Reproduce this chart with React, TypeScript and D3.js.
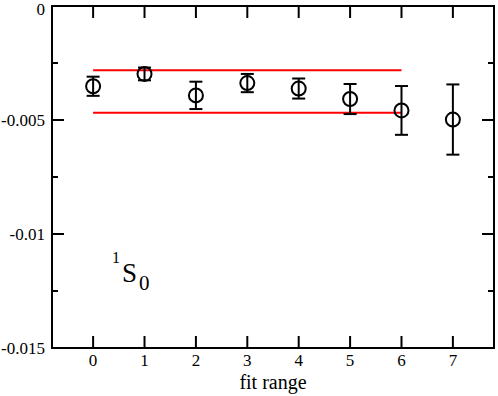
import React from "react";
import { scaleLinear } from "d3";

const fitRange = [0, 1, 2, 3, 4, 5, 6, 7];
const values = [-0.00352, -0.00298, -0.00392, -0.00338, -0.00362, -0.00408, -0.00458, -0.00498];
const errors = [0.00042, 0.00028, 0.0006, 0.0004, 0.00044, 0.00066, 0.00107, 0.00154];
const bandLow = -0.00468;
const bandHigh = -0.00282;
const bandFrom = 0;
const bandTo = 6;
const yTicks = [0, -0.005, -0.01, -0.015];
const yTickLabels = ["0", "-0.005", "-0.01", "-0.015"];
const yMinor = [-0.0025, -0.0075, -0.0125];

const W = 498, H = 396;
const left = 52, right = 494, top = 6, bottom = 348;
const font = "Liberation Serif";

export default function App() {
    const x = scaleLinear().domain([-0.8, 7.8]).range([left, right]);
    const y = scaleLinear().domain([-0.015, 0]).range([bottom, top]);

    return (
        <svg width={W} height={H} style={{ position: "absolute", left: 0, top: 0, background: "#fff" }}>
            {/* red band */}
            {[bandLow, bandHigh].map((v, i) => (
                <line key={"b" + i} x1={x(bandFrom)} x2={x(bandTo)} y1={y(v)} y2={y(v)} stroke="#ff0000" strokeWidth={2} />
            ))}

            {/* points with error bars */}
            {fitRange.map((f, i) => {
                const cx = x(f), cy = y(values[i]);
                const y1 = y(values[i] + errors[i]), y2 = y(values[i] - errors[i]);
                return (
                    <g key={f} stroke="#000" strokeWidth={2} fill="none">
                        <line x1={cx} x2={cx} y1={y1} y2={y2} />
                        <line x1={cx - 6.5} x2={cx + 6.5} y1={y1} y2={y1} />
                        <line x1={cx - 6.5} x2={cx + 6.5} y1={y2} y2={y2} />
                        <circle cx={cx} cy={cy} r={7} fill="none" />
                    </g>
                );
            })}

            {/* frame */}
            <rect x={left} y={top} width={right - left} height={bottom - top} fill="none" stroke="#000" strokeWidth={2} />

            {/* x ticks */}
            {fitRange.map(t => (
                <g key={"xt" + t} stroke="#000" strokeWidth={2}>
                    <line x1={x(t)} x2={x(t)} y1={bottom} y2={bottom - 12} />
                    <line x1={x(t)} x2={x(t)} y1={top} y2={top + 12} />
                </g>
            ))}
            {fitRange.map(t => (
                <text key={"xl" + t} x={x(t)} y={366} fontFamily={font} fontSize={17} textAnchor="middle">{t}</text>
            ))}

            {/* y ticks */}
            {yTicks.map(t => (
                <g key={"yt" + t} stroke="#000" strokeWidth={2}>
                    <line x1={left} x2={left + 12} y1={y(t)} y2={y(t)} />
                    <line x1={right} x2={right - 12} y1={y(t)} y2={y(t)} />
                </g>
            ))}
            {yMinor.map(t => (
                <g key={"ym" + t} stroke="#000" strokeWidth={2}>
                    <line x1={left} x2={left + 6} y1={y(t)} y2={y(t)} />
                    <line x1={right} x2={right - 6} y1={y(t)} y2={y(t)} />
                </g>
            ))}
            {yTicks.map((t, i) => (
                <text key={"yl" + t} x={45} y={Math.max(y(t) + 6, 15)} fontFamily={font} fontSize={17} textAnchor="end">{yTickLabels[i]}</text>
            ))}

            <text x={(left + right) / 2} y={389} fontFamily={font} fontSize={20} textAnchor="middle">fit range</text>

            <text x={112} y={263} fontFamily={font} fontSize={16}>1</text>
            <text x={122} y={282} fontFamily={font} fontSize={27}>S</text>
            <text x={139} y={290} fontFamily={font} fontSize={21}>0</text>
        </svg>
    );
}
